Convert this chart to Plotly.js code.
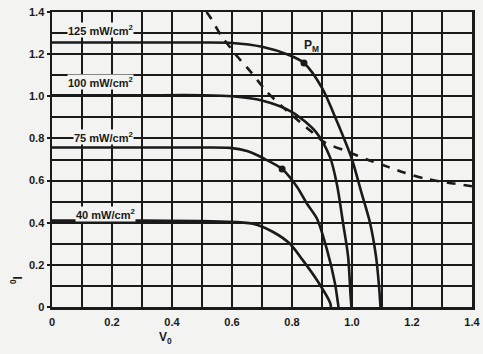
<!DOCTYPE html>
<html>
<head>
<meta charset="utf-8">
<script src="https://cdn.plot.ly/plotly-3.0.1.min.js"></script>
<style>
  html, body { margin: 0; padding: 0; background: #f3f3f1; }
  #chart { width: 483px; height: 354px; }
</style>
</head>
<body>
<div id="chart"></div>
<script>
// Irradiance curve labels
const curveLabels = ["125 mW/cm<sup>2</sup>", "100 mW/cm<sup>2</sup>", "75 mW/cm<sup>2</sup>", "40 mW/cm<sup>2</sup>"];

// I-V curves (V0, I0)
const v125 = [0, 0.3, 0.5, 0.6, 0.7, 0.79, 0.84, 0.9, 0.95, 1.0, 1.03, 1.06, 1.08, 1.09, 1.095];
const i125 = [1.255, 1.255, 1.255, 1.253, 1.235, 1.196, 1.158, 1.04, 0.88, 0.70, 0.55, 0.40, 0.24, 0.10, 0];

const v100 = [0, 0.3, 0.5, 0.6, 0.7, 0.8, 0.88, 0.927, 0.95, 0.97, 0.987, 0.995, 0.998];
const i100 = [1.005, 1.005, 1.005, 1.0, 0.98, 0.925, 0.83, 0.71, 0.58, 0.40, 0.24, 0.06, 0];

const v75 = [0, 0.3, 0.5, 0.593, 0.65, 0.703, 0.767, 0.817, 0.85, 0.883, 0.917, 0.943, 0.953, 0.955];
const i75 = [0.757, 0.757, 0.757, 0.755, 0.74, 0.707, 0.655, 0.57, 0.49, 0.42, 0.27, 0.114, 0.02, 0];

const v40 = [0, 0.3, 0.5, 0.56, 0.67, 0.737, 0.793, 0.837, 0.883, 0.927, 0.93];
const i40 = [0.41, 0.41, 0.408, 0.405, 0.395, 0.356, 0.30, 0.22, 0.128, 0.02, 0];

// Dashed locus line
const vDash = [0.515, 0.527, 0.563, 0.617, 0.663, 0.717, 0.78, 0.85, 0.91, 0.98, 1.05, 1.12, 1.17, 1.24, 1.32, 1.4];
const iDash = [1.40, 1.376, 1.29, 1.19, 1.115, 1.02, 0.935, 0.85, 0.78, 0.74, 0.70, 0.665, 0.64, 0.61, 0.59, 0.573];

// Maximum power points marked with dots
const vPM = [0.84, 0.767];
const iPM = [1.158, 0.655];

// Ticks
const tickVals = [0, 0.2, 0.4, 0.6, 0.8, 1.0, 1.2, 1.4];
const xTickText = ["0", "0.2", "0.4", "0.6", "0.8", "1.0", "1.2", "1.4"];
const yTickText = ["0", "0.2", "0.4", "0.6", "0.8", "1.0", "1.2", "1.4"];

const ink = "#1a1a1a";
const bg = "#f3f3f1";
const fam = "Liberation Sans, Arial, sans-serif";
const curveLine = { color: ink, width: 2.6, shape: "spline", smoothing: 0.8 };

const traces = [
  { x: v125, y: i125, mode: "lines", line: curveLine, hoverinfo: "skip" },
  { x: v100, y: i100, mode: "lines", line: curveLine, hoverinfo: "skip" },
  { x: v75, y: i75, mode: "lines", line: curveLine, hoverinfo: "skip" },
  { x: v40, y: i40, mode: "lines", line: curveLine, hoverinfo: "skip" },
  { x: vDash, y: iDash, mode: "lines", line: { color: ink, width: 2.6, dash: "9px,8px", shape: "spline", smoothing: 0.6 }, hoverinfo: "skip" },
  { x: vPM, y: iPM, mode: "markers", marker: { color: ink, size: 7 }, hoverinfo: "skip" }
];

const tickFont = { family: fam, size: 11, color: ink, weight: "bold" };

const axisCommon = {
  range: [0, 1.4],
  tickvals: tickVals,
  showgrid: true,
  gridcolor: ink,
  gridwidth: 2,
  minor: { dtick: 0.1, tick0: 0, showgrid: true, gridcolor: ink, gridwidth: 2 },
  showline: true,
  linecolor: ink,
  linewidth: 2.5,
  mirror: true,
  zeroline: false,
  fixedrange: true,
  tickfont: tickFont
};

const labelX = [0.163, 0.16, 0.17, 0.177];
const labelY = [1.315, 1.068, 0.807, 0.44];

const annotations = curveLabels.map((t, k) => ({
  x: labelX[k], y: labelY[k], xref: "x", yref: "y",
  text: t, showarrow: false, bgcolor: bg, borderpad: 0,
  font: { family: fam, size: 11, color: ink, weight: "bold" }
}));

annotations.push({
  x: 0.866, y: 1.24, xref: "x", yref: "y", text: "P<sub>M</sub>", showarrow: false,
  font: { family: fam, size: 12, color: ink, weight: "bold" }
});
annotations.push({
  x: 0.377, y: -0.105, xref: "x", yref: "paper", yanchor: "middle", text: "V<sub>0</sub>", showarrow: false,
  font: { family: fam, size: 12, color: ink, weight: "bold" }
});
annotations.push({
  x: -0.086, y: 0.128, xref: "paper", yref: "y", xanchor: "center", text: "I<sub>0</sub>", showarrow: false, textangle: 90,
  font: { family: fam, size: 12, color: ink, weight: "bold" }
});

const layout = {
  width: 483, height: 354,
  margin: { l: 52, r: 11, t: 12, b: 47 },
  paper_bgcolor: bg,
  plot_bgcolor: bg,
  showlegend: false,
  xaxis: Object.assign({}, axisCommon, { ticktext: xTickText, ticks: "", ticklabelstandoff: 3 }),
  yaxis: Object.assign({}, axisCommon, { ticktext: yTickText, ticks: "outside", ticklen: 3, tickwidth: 2, tickcolor: ink }),
  annotations: annotations
};

Plotly.newPlot("chart", traces, layout, { staticPlot: true, displayModeBar: false });
</script>
</body>
</html>
